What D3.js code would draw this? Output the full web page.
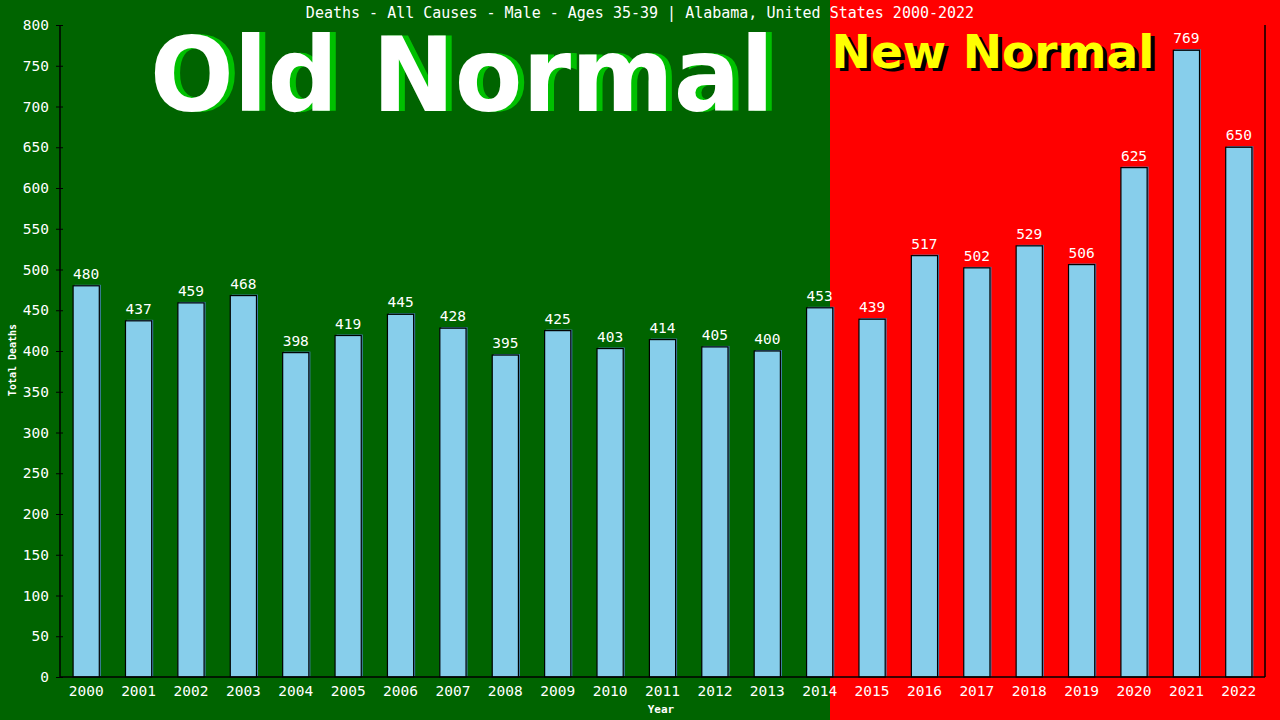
<!DOCTYPE html>
<html>
<head>
<meta charset="utf-8">
<script src="https://cdn.jsdelivr.net/npm/d3@7"></script>
<style>
  body { margin: 0; background: #000; }
  svg { display: block; }
</style>
</head>
<body>
<script>
var years = [2000, 2001, 2002, 2003, 2004, 2005, 2006, 2007, 2008, 2009, 2010, 2011,
             2012, 2013, 2014, 2015, 2016, 2017, 2018, 2019, 2020, 2021, 2022];
var deaths = [480, 437, 459, 468, 398, 419, 445, 428, 395, 425, 403, 414,
              405, 400, 453, 439, 517, 502, 529, 506, 625, 769, 650];
var y_ticks = [0, 50, 100, 150, 200, 250, 300, 350, 400, 450, 500, 550, 600, 650, 700, 750, 800];
var title = "Deaths - All Causes - Male - Ages 35-39 | Alabama, United States 2000-2022";

var W = 1280, H = 720;
// plot box (note: "top" is taken by window.top)
var p_left = 60, p_right = 1265, p_top = 25, p_bottom = 677;
var split_x = 830; // where old normal turns into new normal
var mono = "'DejaVu Sans Mono', 'Liberation Mono', monospace";

var svg = d3.select('body').append('svg')
    .attr('width', W)
    .attr('height', H);

// backgrounds
svg.append('rect')
    .attr('x', 0).attr('y', 0)
    .attr('width', split_x).attr('height', H)
    .attr('fill', '#006400');
svg.append('rect')
    .attr('x', split_x).attr('y', 0)
    .attr('width', W - split_x).attr('height', H)
    .attr('fill', '#ff0000');

var x = d3.scaleBand()
    .domain(years)
    .range([p_left, p_right])
    .paddingInner(0.5)
    .paddingOuter(0.25);

var y = d3.scaleLinear()
    .domain([0, 800])
    .range([p_bottom, p_top]);

// big labels
function big_label(txt, cx, cy, size, len, fill, shadow, dx, dy){
    var g = svg.append('g');
    [[dx, dy, shadow], [0, 0, fill]].forEach(function(s){
        g.append('text')
            .attr('x', cx + s[0])
            .attr('y', cy + s[1])
            .attr('text-anchor', 'middle')
            .attr('font-family', "'DejaVu Sans', Verdana, sans-serif")
            .attr('font-weight', 'bold')
            .attr('font-size', size + 'px')
            .attr('textLength', len)
            .attr('lengthAdjust', 'spacingAndGlyphs')
            .attr('fill', s[2])
            .text(txt);
    });
}
big_label('Old Normal', 462, 111, 104, 624, '#ffffff', '#00c000', 6, 0);
big_label('New Normal', 993, 68, 47, 323, '#ffff00', '#000000', 4, 3);

// bars: shadow then main
var bars = svg.append('g').attr('class', 'bars');
bars.selectAll('rect.shadow')
    .data(deaths)
    .enter()
    .append('rect')
    .attr('class', 'shadow')
    .attr('x', function(d, i){ return x(years[i]) + 1.5; })
    .attr('y', function(d){ return y(d) - 1; })
    .attr('width', x.bandwidth())
    .attr('height', function(d){ return p_bottom - y(d); })
    .attr('fill', '#4682b4');
bars.selectAll('rect.bar')
    .data(deaths)
    .enter()
    .append('rect')
    .attr('class', 'bar')
    .attr('x', function(d, i){ return x(years[i]); })
    .attr('y', function(d){ return y(d); })
    .attr('width', x.bandwidth())
    .attr('height', function(d){ return p_bottom - y(d); })
    .attr('fill', '#87ceeb')
    .attr('stroke', '#000')
    .attr('stroke-width', 1.2);

// values
svg.append('g')
    .selectAll('text')
    .data(deaths)
    .enter()
    .append('text')
    .attr('x', function(d, i){ return x(years[i]) + x.bandwidth() / 2; })
    .attr('y', function(d){ return y(d) - 7; })
    .attr('text-anchor', 'middle')
    .attr('font-family', mono)
    .attr('font-size', '14.5px')
    .attr('fill', '#fff')
    .text(function(d){ return d; });

// axes
var y_axis = svg.append('g')
    .attr('transform', 'translate(' + p_left + ',0)')
    .call(d3.axisLeft(y).tickValues(y_ticks).tickSize(4).tickPadding(7));
y_axis.selectAll('.tick line').attr('x2', 3).attr('x1', -4).attr('stroke', '#000');
y_axis.select('.domain').remove();
y_axis.selectAll('text')
    .attr('font-family', mono)
    .attr('font-size', '14.5px')
    .attr('fill', '#fff');

var x_axis = svg.append('g')
    .attr('transform', 'translate(0,' + p_bottom + ')')
    .call(d3.axisBottom(x).tickSize(0).tickPadding(9));
x_axis.select('.domain').remove();
x_axis.selectAll('text')
    .attr('font-family', mono)
    .attr('font-size', '14.5px')
    .attr('fill', '#fff');

// frame lines
svg.append('line')
    .attr('x1', p_left).attr('x2', p_left).attr('y1', p_top).attr('y2', p_bottom)
    .attr('stroke', '#000').attr('stroke-width', 1.5);
svg.append('line')
    .attr('x1', p_left).attr('x2', p_right).attr('y1', p_bottom).attr('y2', p_bottom)
    .attr('stroke', '#000').attr('stroke-width', 1.5);
svg.append('line')
    .attr('x1', p_right).attr('x2', p_right).attr('y1', p_top).attr('y2', p_bottom)
    .attr('stroke', '#000').attr('stroke-width', 1.5);

// titles
svg.append('text')
    .attr('x', 640).attr('y', 18)
    .attr('text-anchor', 'middle')
    .attr('font-family', mono)
    .attr('font-size', '15px')
    .attr('fill', '#fff')
    .text(title);
svg.append('text')
    .attr('transform', 'translate(16,360) rotate(-90)')
    .attr('text-anchor', 'middle')
    .attr('font-family', mono)
    .attr('font-weight', 'bold')
    .attr('font-size', '10px')
    .attr('fill', '#fff')
    .text('Total Deaths');
svg.append('text')
    .attr('x', 661).attr('y', 713)
    .attr('text-anchor', 'middle')
    .attr('font-family', mono)
    .attr('font-weight', 'bold')
    .attr('font-size', '11px')
    .attr('fill', '#fff')
    .text('Year');
</script>
</body>
</html>
